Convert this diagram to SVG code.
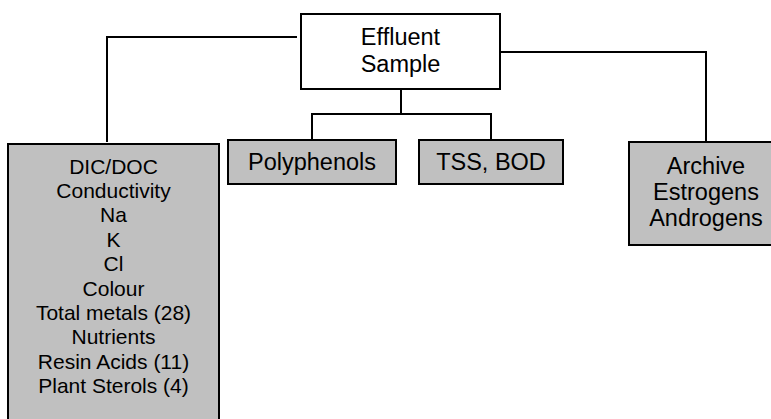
<svg xmlns="http://www.w3.org/2000/svg" width="771" height="419" viewBox="0 0 771 419">
<style>
.box{stroke:#000;stroke-width:2}
.w{fill:#fff}
.g{fill:#c0c0c0}
.t{font-family:"Liberation Sans",Arial,sans-serif;fill:#000;text-anchor:middle}
.big{font-size:23.5px}
.sm{font-size:21px}
.c{fill:none;stroke:#000;stroke-width:2}
</style>
<rect width="771" height="419" fill="#fff"/>
<g id="connectors">
<polyline class="c" points="297,37 107,37 107,142"/>
<polyline class="c" points="500,52 706,52 706,142"/>
<polyline class="c" points="401,89 401,114"/>
<polyline class="c" points="312,140 312,114 491,114 491,140"/>
</g>
<g id="effluent">
<rect class="box w" x="301" y="14" width="199" height="75"/>
<text class="t big" x="400.5" y="45">Effluent</text>
<text class="t big" x="400.5" y="71.5">Sample</text>
</g>
<g id="chemistry">
<rect class="box g" x="8" y="144" width="211" height="290"/>
<text class="t sm" x="113.5" y="173.5">DIC/DOC</text>
<text class="t sm" x="113.5" y="197.9">Conductivity</text>
<text class="t sm" x="113.5" y="222.3">Na</text>
<text class="t sm" x="113.5" y="246.7">K</text>
<text class="t sm" x="113.5" y="271.1">Cl</text>
<text class="t sm" x="113.5" y="295.5">Colour</text>
<text class="t sm" x="113.5" y="319.9">Total metals (28)</text>
<text class="t sm" x="113.5" y="344.3">Nutrients</text>
<text class="t sm" x="113.5" y="368.7">Resin Acids (11)</text>
<text class="t sm" x="113.5" y="393.1">Plant Sterols (4)</text>
</g>
<g id="polyphenols">
<rect class="box g" x="228" y="140" width="168" height="44"/>
<text class="t big" x="312" y="170">Polyphenols</text>
</g>
<g id="tss">
<rect class="box g" x="419" y="140" width="144" height="44"/>
<text class="t big" x="491" y="170">TSS, BOD</text>
</g>
<g id="archive">
<rect class="box g" x="629" y="142" width="160" height="103"/>
<text class="t big" x="706" y="174">Archive</text>
<text class="t big" x="706" y="200">Estrogens</text>
<text class="t big" x="706" y="226">Androgens</text>
</g>
</svg>
